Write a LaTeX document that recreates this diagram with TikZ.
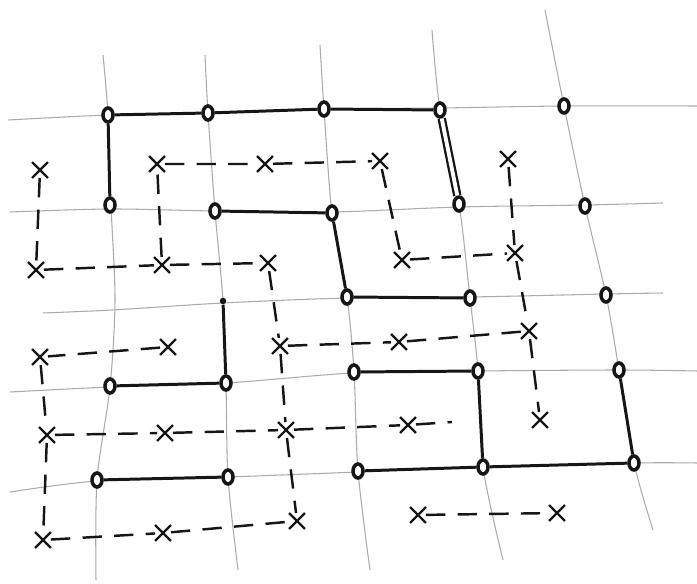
\documentclass[tikz,border=0pt]{standalone}
\usetikzlibrary{shapes.geometric, shapes.misc}
\definecolor{ink}{HTML}{161616}
\definecolor{rule}{HTML}{ABABAB}

\begin{document}
\begin{tikzpicture}[x=0.02cm, y=-0.02cm, line width=0.6pt,
    gridline/.style={draw=rule, line width=0.6pt},
    dot/.style={ellipse, draw=ink, fill=white, line width=2pt, inner sep=0pt, minimum width=0.2cm, minimum height=0.28cm},
    tip/.style={circle, fill=ink, inner sep=0pt, minimum size=0.13cm},
    xmark/.style={cross out, draw=ink, line width=1.4pt, inner sep=0pt, minimum size=0.27cm},
    wall/.style={draw=ink, line width=1.7pt},
    trail/.style={draw=ink, line width=1.4pt, dash pattern=on 11pt off 7pt}]
  \useasboundingbox (0,0) rectangle (697,584);

  % pencil grid
  \draw[gridline] plot[smooth] coordinates {(8,120) (108,115) (208,113) (324,109) (440,108) (564,106) (697,106)};
  \draw[gridline] plot[smooth] coordinates {(10,212) (110,209) (215,211) (332,212) (459,207) (585,205) (663,203)};
  \draw[gridline] plot[smooth] coordinates {(43,313) (112,310) (223,303) (347,298) (470,297) (606,294) (663,293)};
  \draw[gridline] plot[smooth] coordinates {(10,392) (110,387) (226,383) (354,373) (478,371) (619,370) (697,371)};
  \draw[gridline] plot[smooth] coordinates {(10,492) (97,481) (228,477) (358,472) (483,467) (634,463) (697,463)};
  \draw[gridline] plot[smooth] coordinates {(103,55) (108,115) (111,205) (115,300) (110,387) (97,480) (96,580)};
  \draw[gridline] plot[smooth] coordinates {(205,55) (208,113) (215,211) (223,301) (226,383) (228,477) (238,570)};
  \draw[gridline] plot[smooth] coordinates {(320,45) (324,109) (332,213) (347,297) (354,372) (358,471) (370,570)};
  \draw[gridline] plot[smooth] coordinates {(432,30) (440,110) (459,204) (470,298) (478,371) (483,467) (503,560)};
  \draw[gridline] plot[smooth] coordinates {(545,10) (564,106) (585,206) (606,295) (619,370) (634,463) (653,530)};

  % circles on the corners
  \foreach \n/\x/\y in {d11/108/115, d12/208/113, d13/324/109, d14/440/110, d15/564/106,
                        d21/110/205, d22/215/211, d23/332/213, d24/459/204, d25/585/206,
                        d33/347/297, d34/470/298, d35/606/295,
                        d41/110/386, d42/226/383, d43/354/372, d44/478/371, d45/619/370,
                        d51/97/480, d52/228/477, d53/358/471, d54/483/467, d55/634/463}
    \node[dot] (\n) at (\x,\y) {};
  \node[tip] (d32) at (223,301) {};

  % crosses in the cells
  \foreach \n/\x/\y in {xa1/40/170, xa2/157/164, xa3/265/164, xa4/380/161, xa5/508/159,
                        xb1/36/270, xb2/162/265, xb3/268/263, xb4/402/260, xb5/515/253,
                        xc1/40/357, xc2/168/347, xc3/280/346, xc4/399/342, xc5/529/331,
                        xd1/47/435, xd2/165/433, xd3/286/430, xd4/408/425, xd5/540/420,
                        xe1/43/540, xe2/163/533, xe3/297/521, xe4/418/515, xe5/557/513}
    \node[xmark] (\n) at (\x,\y) {};
  \coordinate (xdend) at (452,422);

  % solid walls
  \draw[wall] (d11) -- (d12) -- (d13) -- (d14);
  \draw[wall] (d11) -- (d21);
  \draw[wall, double=white, double distance=2.2pt, line width=1.3pt] (d14) -- (d24);
  \draw[wall] (d22) -- (d23) -- (d33) -- (d34);
  \draw[wall] (d32) -- (d42) -- (d41);
  \draw[wall] (d43) -- (d44) -- (d54) -- (d53);
  \draw[wall] (d54) -- (d55) -- (d45);
  \draw[wall] (d51) -- (d52);

  % dashed trails
  \draw[trail] (xa1) -- (xb1) -- (xb2) -- (xb3);
  \draw[trail] (xb2) -- (xa2) -- (xa3) -- (xa4) -- (xb4) -- (xb5);
  \draw[trail] (xa5) -- (xb5) -- (xc5) -- (xd5);
  \draw[trail] (xb3) -- (xc3) -- (xc4) -- (xc5);
  \draw[trail] (xc3) -- (xd3) -- (xe3);
  \draw[trail] (xc2) -- (xc1) -- (xd1) -- (xe1) -- (xe2) -- (xe3);
  \draw[trail] (xd1) -- (xd2) -- (xd3) -- (xd4) -- (xdend);
  \draw[trail] (xe4) -- (xe5);
\end{tikzpicture}
\end{document}
